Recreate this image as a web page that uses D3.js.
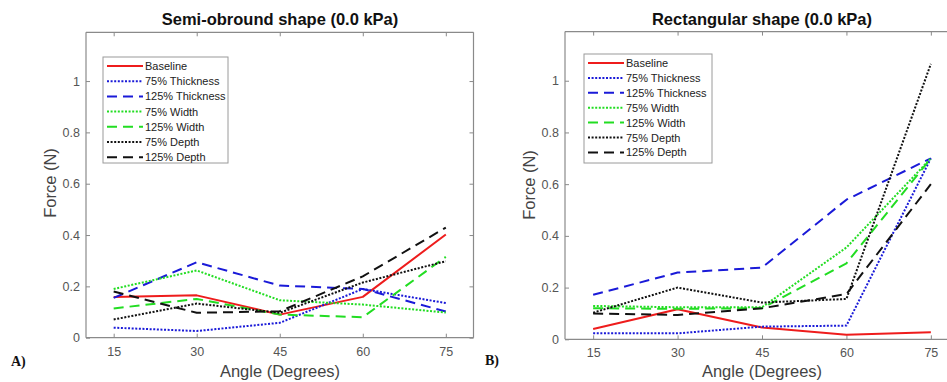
<!DOCTYPE html>
<html>
<head>
<meta charset="utf-8">
<script src="https://cdn.jsdelivr.net/npm/d3@7"></script>
<style>
  html, body { margin: 0; padding: 0; background: #fff; }
  svg { display: block; }
  text { font-family: "Liberation Sans", Arial, Helvetica, sans-serif; }
</style>
</head>
<body>
<svg id="chart" width="947" height="382"></svg>
<script>
// ---------- DATA ----------
const angles = [15, 30, 45, 60, 75];
const xTicks = [15, 30, 45, 60, 75];
const yTicks = [0, 0.2, 0.4, 0.6, 0.8, 1];
const yTickLabels = ["0", "0.2", "0.4", "0.6", "0.8", "1"];
const seriesNames = ["Baseline", "75% Thickness", "125% Thickness", "75% Width", "125% Width", "75% Depth", "125% Depth"];

// Panel A: Semi-obround shape
const semiBaseline  = [0.159, 0.165, 0.090, 0.159, 0.402];
const semiThick75   = [0.039, 0.026, 0.058, 0.190, 0.135];
const semiThick125  = [0.155, 0.294, 0.203, 0.190, 0.102];
const semiWidth75   = [0.190, 0.262, 0.146, 0.129, 0.098];
const semiWidth125  = [0.114, 0.151, 0.090, 0.080, 0.315];
const semiDepth75   = [0.071, 0.133, 0.097, 0.215, 0.298];
const semiDepth125  = [0.180, 0.097, 0.103, 0.239, 0.429];

// Panel B: Rectangular shape
const rectBaseline  = [0.040, 0.116, 0.046, 0.018, 0.027];
const rectThick75   = [0.023, 0.023, 0.049, 0.053, 0.700];
const rectThick125  = [0.172, 0.258, 0.277, 0.540, 0.700];
const rectWidth75   = [0.129, 0.124, 0.124, 0.355, 0.700];
const rectWidth125  = [0.120, 0.118, 0.120, 0.294, 0.700];
const rectDepth75   = [0.103, 0.200, 0.142, 0.156, 1.065];
const rectDepth125  = [0.100, 0.094, 0.120, 0.175, 0.600];

// ---------- STYLES ----------
const seriesColors = ["#ee1c1c", "#1a1ad8", "#1a1ad8", "#22dd22", "#22dd22", "#111111", "#111111"];
const seriesDash   = [null, "2,1.6", "10,6", "2,1.6", "10,6", "2,1.6", "10,6"];

const svg = d3.select("#chart");

function drawPanel(cfg) {
  const g = svg.append("g");
  const x = d3.scaleLinear().domain([10, 80]).range([cfg.left, cfg.right]);
  const y = d3.scaleLinear().domain([0, 1.19]).range([cfg.bottom, cfg.top]);

  // axes box
  const axisColor = "#8a8a8a";
  const tickColor = "#555";
  const mk = (axis) => axis.tickSizeOuter(0);

  const bottomAxis = g.append("g").attr("transform", `translate(0,${cfg.bottom})`)
    .call(mk(d3.axisBottom(x).tickValues(xTicks).tickSize(-4).tickPadding(9)));
  const leftAxis = g.append("g").attr("transform", `translate(${cfg.left},0)`)
    .call(mk(d3.axisLeft(y).tickValues(yTicks).tickFormat((d, i) => yTickLabels[i]).tickSize(-4).tickPadding(6)));
  const topAxis = g.append("g").attr("transform", `translate(0,${cfg.top})`)
    .call(mk(d3.axisTop(x).tickValues(xTicks).tickSize(-4).tickFormat("")));
  const rightAxis = g.append("g").attr("transform", `translate(${cfg.right},0)`)
    .call(mk(d3.axisRight(y).tickValues(yTicks).tickSize(-4).tickFormat("")));

  [bottomAxis, leftAxis, topAxis, rightAxis].forEach(a => {
    a.select(".domain").attr("stroke", axisColor).attr("stroke-width", 1.2);
    a.selectAll(".tick line").attr("stroke", axisColor).attr("stroke-width", 1);
    a.selectAll(".tick text").attr("fill", tickColor).style("font-size", "12.5px")
      .style("font-family", '"Liberation Sans", Arial, sans-serif');
  });
  // extend domain lines to the corners
  bottomAxis.select(".domain").attr("d", `M${cfg.left},0H${cfg.right}`);
  topAxis.select(".domain").attr("d", `M${cfg.left},0H${cfg.right}`);
  leftAxis.select(".domain").attr("d", `M0,${cfg.bottom}V${cfg.top}`);
  rightAxis.select(".domain").attr("d", `M0,${cfg.bottom}V${cfg.top}`);

  // lines
  const line = d3.line().x((d, i) => x(angles[i])).y(d => y(d));
  cfg.series.forEach((vals, k) => {
    g.append("path").datum(vals)
      .attr("d", line)
      .attr("fill", "none")
      .attr("stroke", seriesColors[k])
      .attr("stroke-width", 2)
      .attr("stroke-dasharray", seriesDash[k])
      .attr("stroke-linejoin", "round");
  });

  // title
  g.append("text").attr("x", cfg.titleX).attr("y", 25)
    .attr("text-anchor", "middle").style("font-size", "16.5px").style("font-weight", "bold")
    .attr("fill", "#111").text(cfg.title);

  // axis labels
  g.append("text").attr("x", cfg.xLabelX).attr("y", 377)
    .attr("text-anchor", "middle").style("font-size", "16.5px").attr("fill", "#444")
    .text("Angle (Degrees)");
  g.append("text").attr("transform", `translate(${cfg.yLabelX},${cfg.yLabelY}) rotate(-90)`)
    .attr("text-anchor", "middle").style("font-size", "16.5px").attr("fill", "#444")
    .text("Force (N)");

  // panel letter
  g.append("text").attr("x", cfg.letterX).attr("y", cfg.letterY)
    .style("font-family", '"Liberation Serif", "Times New Roman", serif')
    .style("font-size", "14px").style("font-weight", "bold").attr("fill", "#111")
    .text(cfg.letter);

  // legend
  const lg = g.append("g").attr("transform", `translate(${cfg.legX},${cfg.legY})`);
  lg.append("rect").attr("x", 0).attr("y", 0).attr("width", cfg.legW).attr("height", cfg.legH)
    .attr("fill", "#fff").attr("stroke", "#9a9a9a").attr("stroke-width", 1);
  seriesNames.forEach((name, k) => {
    const yy = 9 + k * cfg.legStep;
    lg.append("line").attr("x1", 4).attr("x2", 40).attr("y1", yy).attr("y2", yy)
      .attr("stroke", seriesColors[k]).attr("stroke-width", 2)
      .attr("stroke-dasharray", seriesDash[k]);
    lg.append("text").attr("x", 42).attr("y", yy + 4)
      .style("font-size", "11px").attr("fill", "#222").text(name);
  });
}

drawPanel({
  left: 86, right: 473.5, top: 32.3, bottom: 337.7,
  title: "Semi-obround shape (0.0 kPa)", titleX: 280,
  xLabelX: 280, yLabelX: 56, yLabelY: 183,
  letter: "A)", letterX: 11, letterY: 366,
  legX: 103, legY: 57, legW: 125, legH: 106, legStep: 15.2,
  series: [semiBaseline, semiThick75, semiThick125, semiWidth75, semiWidth125, semiDepth75, semiDepth125]
});

drawPanel({
  left: 565, right: 959, top: 31.6, bottom: 339.3,
  title: "Rectangular shape (0.0 kPa)", titleX: 762,
  xLabelX: 762, yLabelX: 535, yLabelY: 185,
  letter: "B)", letterX: 485, letterY: 365,
  legX: 584, legY: 54, legW: 128, legH: 109, legStep: 14.9,
  series: [rectBaseline, rectThick75, rectThick125, rectWidth75, rectWidth125, rectDepth75, rectDepth125]
});
</script>
</body>
</html>
